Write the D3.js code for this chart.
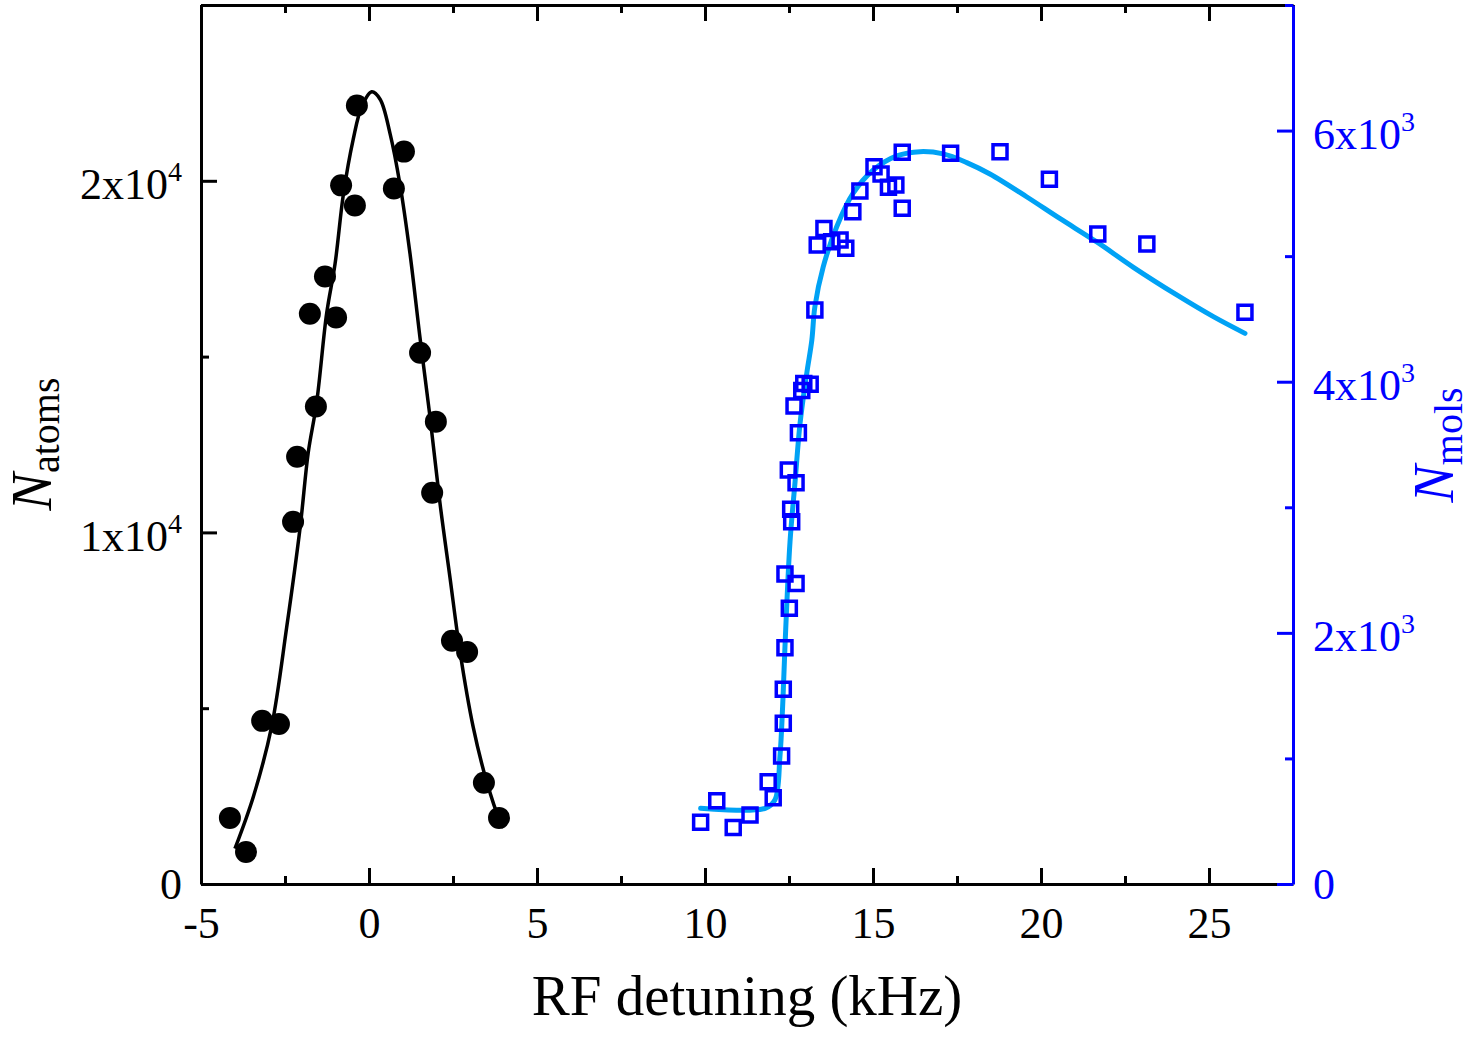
<!DOCTYPE html>
<html>
<head>
<meta charset="utf-8">
<script src="https://cdn.jsdelivr.net/npm/d3@7"></script>
<style>
body { margin: 0; background: #fff; }
svg text { font-family: "Liberation Serif", "Times New Roman", serif; }
</style>
</head>
<body>
<svg id="chart" width="1480" height="1038"></svg>
<script>
// atom counts (black dots)
const atomX = [-4.14, -3.66, -3.18, -2.68, -2.26, -2.14, -1.58, -1.76, -1.31, -0.98, -0.83, -0.42, -0.36, 0.74, 1.04, 1.52, 1.88, 1.99, 2.47, 2.92, 3.42, 3.87];
const atomN = [1880, 910, 4640, 4550, 10300, 12150, 13580, 16220, 17280, 16110, 19870, 19300, 22140, 19780, 20830, 15110, 11130, 13150, 6920, 6600, 2880, 1880];
// atom fit curve
const atomFitX = [-3.99, -3.44, -2.90, -2.45, -2.05, -1.81, -1.56, -1.26, -1.01, -0.76, -0.47, -0.22, 0.08, 0.33, 0.63, 0.92, 1.22, 1.52, 1.82, 2.11, 2.41, 2.71, 3.10, 3.50, 3.90, 4.00];
const atomFitN = [1005, 2490, 4470, 7300, 10140, 12260, 13680, 16230, 17640, 19630, 21180, 22100, 22530, 22320, 21330, 19910, 17930, 15520, 13250, 10850, 8720, 6600, 4470, 2920, 1780, 1600];
// molecule counts (blue squares)
const molX = [9.87, 10.35, 10.84, 11.34, 11.88, 12.03, 12.28, 12.33, 12.33, 12.38, 12.51, 12.71, 12.38, 12.58, 12.55, 12.71, 12.48, 12.78, 12.65, 12.88, 12.94, 13.13, 13.27, 13.34, 13.54, 13.77, 14.02, 14.19, 14.40, 14.61, 15.03, 15.24, 15.46, 15.68, 15.87, 15.87, 17.31, 18.78, 20.25, 21.69, 23.15, 26.07];
const molN = [491, 663, 449, 549, 815, 687, 1019, 1280, 1551, 1882, 2196, 2394, 2469, 2885, 2984, 3196, 3297, 3594, 3807, 3930, 3985, 3980, 4571, 5089, 5221, 5115, 5129, 5062, 5354, 5519, 5712, 5654, 5548, 5567, 5381, 5827, 5819, 5832, 5612, 5176, 5097, 4553];
// molecule fit curve
const molFitX = [9.87, 11.79, 12.08, 12.23, 12.31, 12.38, 12.53, 12.68, 12.83, 13.03, 13.18, 13.27, 13.52, 13.92, 14.41, 15.01, 15.71, 16.40, 17.09, 17.79, 18.48, 19.57, 20.57, 21.66, 22.75, 24.04, 25.13, 26.07];
const molFitN = [603, 603, 669, 1014, 1412, 1890, 2724, 3202, 3671, 4069, 4332, 4597, 4916, 5234, 5501, 5686, 5798, 5832, 5814, 5745, 5654, 5473, 5298, 5113, 4911, 4691, 4518, 4385];

const xTicks = [-5, 0, 5, 10, 15, 20, 25];
const xMinor = [-2.5, 2.5, 7.5, 12.5, 17.5, 22.5, 27.5];
const leftTicks = [0, 10000, 20000];
const leftMinor = [5000, 15000, 25000];
const rightTicks = [0, 2000, 4000, 6000];
const rightMinor = [1000, 3000, 5000, 7000];

const margin = {top: 5, left: 201, right: 187, bottom: 154};
const width = 1480 - margin.left - margin.right;
const height = 1038 - margin.top - margin.bottom;
const blue = '#0000ff';
const lightBlue = '#00a2f5';

const svg = d3.select('#chart');
const chart = svg.append('g').attr('transform', `translate(${margin.left},${margin.top})`);

const x = d3.scaleLinear().domain([-5, 27.5]).range([0, width]);
const yL = d3.scaleLinear().domain([0, 25000]).range([height, 0]);
const yR = d3.scaleLinear().domain([0, 7000]).range([height, 0]);

function styleAxis(g, color) {
    g.attr('font-size', 44).attr('font-family', '"Liberation Serif", serif');
    g.selectAll('path, line').attr('stroke', color).attr('stroke-width', 3);
    g.selectAll('text').attr('fill', color);
}

// scientific labels like 2x10^4
function sciLabels(g, exp) {
    g.selectAll('.tick text').each(function (d) {
        const t = d3.select(this);
        if (d === 0) { t.text('0'); return; }
        t.text(null).attr('dy', '0.4em');
        t.append('tspan').text((d / Math.pow(10, exp)) + 'x10');
        t.append('tspan').attr('font-size', 28).attr('dy', -18).text(exp);
    });
}

// minor ticks
chart.append('g').attr('transform', `translate(0,${height})`)
    .call(d3.axisBottom(x).tickValues(xMinor).tickSizeInner(-8).tickSizeOuter(0).tickFormat(''))
    .call(g => { g.select('.domain').remove(); styleAxis(g, '#000'); });
chart.append('g')
    .call(d3.axisTop(x).tickValues(xMinor).tickSizeInner(-8).tickSizeOuter(0).tickFormat(''))
    .call(g => { g.select('.domain').remove(); styleAxis(g, '#000'); });

// top axis (ticks only)
chart.append('g')
    .call(d3.axisTop(x).tickValues(xTicks).tickSizeInner(-16).tickSizeOuter(0).tickFormat(''))
    .call(g => styleAxis(g, '#000'));

// bottom axis
chart.append('g').attr('transform', `translate(0,${height})`)
    .call(d3.axisBottom(x).tickValues(xTicks).tickSizeInner(-16).tickSizeOuter(0).tickPadding(23).tickFormat(d => d))
    .call(g => styleAxis(g, '#000'));

// left axis
chart.append('g')
    .call(d3.axisLeft(yL).tickValues(leftMinor).tickSizeInner(-8).tickSizeOuter(0).tickFormat(''))
    .call(g => { g.select('.domain').remove(); styleAxis(g, '#000'); });
chart.append('g')
    .call(d3.axisLeft(yL).tickValues(leftTicks).tickSizeInner(-16).tickSizeOuter(0).tickPadding(19))
    .call(g => { styleAxis(g, '#000'); sciLabels(g, 4); });

// right axis
chart.append('g').attr('transform', `translate(${width},0)`)
    .call(d3.axisRight(yR).tickValues(rightMinor).tickSizeInner(-8).tickSizeOuter(0).tickFormat(''))
    .call(g => { g.select('.domain').remove(); styleAxis(g, blue); });
chart.append('g').attr('transform', `translate(${width},0)`)
    .call(d3.axisRight(yR).tickValues(rightTicks).tickSizeInner(-16).tickSizeOuter(0).tickPadding(20))
    .call(g => { styleAxis(g, blue); sciLabels(g, 3); });

// atoms
const atomFit = atomFitX.map((v, i) => [v, atomFitN[i]]);
chart.append('path').datum(atomFit)
    .attr('fill', 'none').attr('stroke', '#000').attr('stroke-width', 3.5)
    .attr('d', d3.line().x(d => x(d[0])).y(d => yL(d[1])).curve(d3.curveCatmullRom.alpha(0.5)));
chart.append('g').selectAll('circle').data(atomX.map((v, i) => [v, atomN[i]])).join('circle')
    .attr('cx', d => x(d[0])).attr('cy', d => yL(d[1])).attr('r', 11).attr('fill', '#000');

// molecules
const molFit = molFitX.map((v, i) => [v, molFitN[i]]);
chart.append('path').datum(molFit)
    .attr('fill', 'none').attr('stroke', lightBlue).attr('stroke-width', 5).attr('stroke-linecap', 'round')
    .attr('d', d3.line().x(d => x(d[0])).y(d => yR(d[1])).curve(d3.curveCatmullRom.alpha(0.5)));
chart.append('g').selectAll('path').data(molX.map((v, i) => [v, molN[i]])).join('path')
    .attr('transform', d => `translate(${x(d[0])},${yR(d[1])})`)
    .attr('d', d3.symbol(d3.symbolSquare, 196))
    .attr('fill', 'none').attr('stroke', blue).attr('stroke-width', 3.5);

// axis titles
svg.append('text').attr('x', margin.left + width / 2).attr('y', 1015)
    .attr('text-anchor', 'middle').attr('font-size', 57).text('RF detuning (kHz)');

const yl = svg.append('text').attr('transform', 'translate(51,444) rotate(-90)').attr('text-anchor', 'middle');
yl.append('tspan').attr('font-size', 56).attr('font-style', 'italic').text('N');
yl.append('tspan').attr('font-size', 40).attr('dy', 8).text('atoms');

const yr = svg.append('text').attr('transform', 'translate(1453,445) rotate(-90)').attr('text-anchor', 'middle').attr('fill', blue);
yr.append('tspan').attr('font-size', 56).attr('font-style', 'italic').text('N');
yr.append('tspan').attr('font-size', 40).attr('dy', 9).text('mols');
</script>
</body>
</html>
